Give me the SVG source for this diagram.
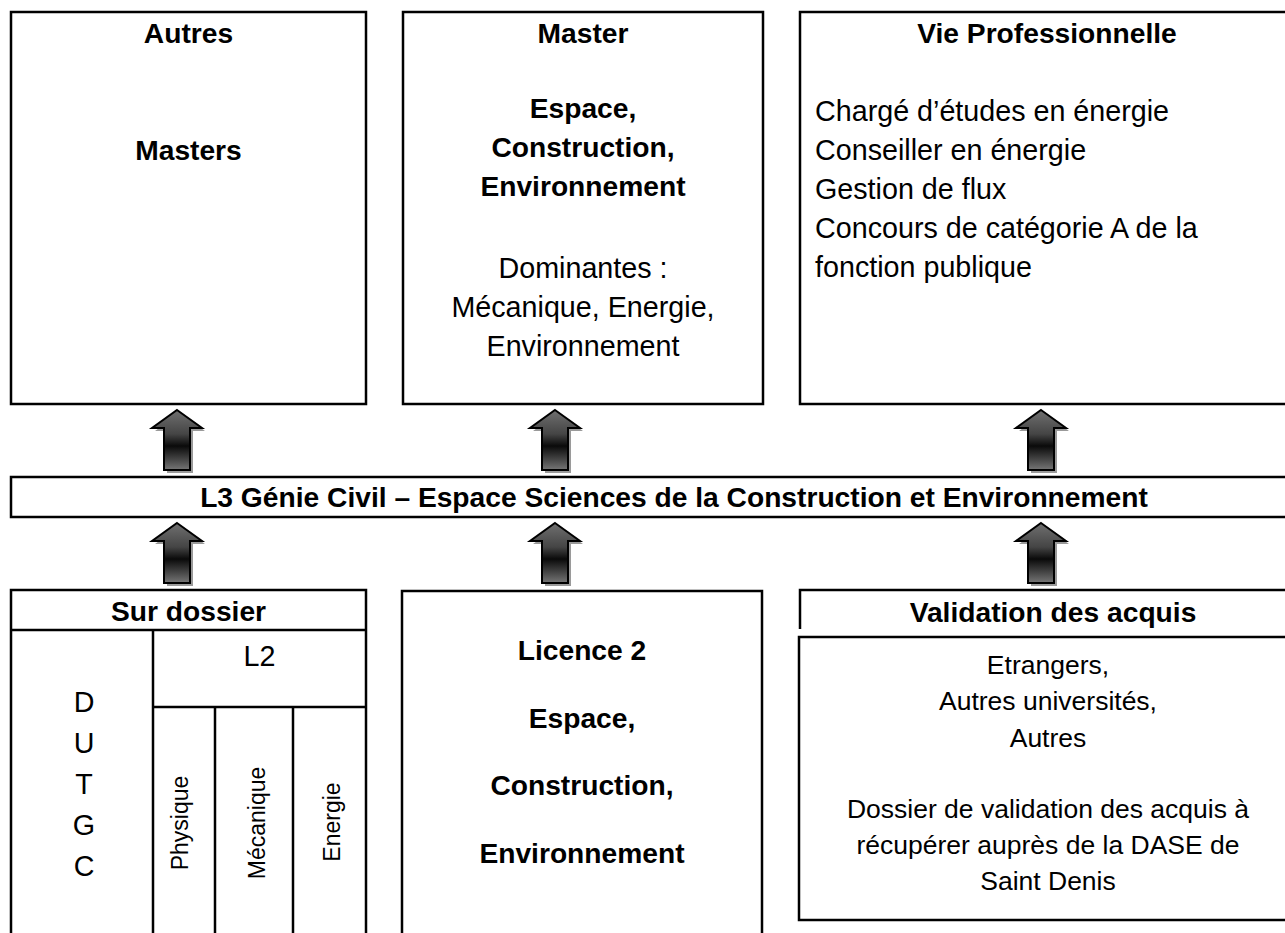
<svg xmlns="http://www.w3.org/2000/svg" width="1285" height="933" viewBox="0 0 1285 933">
<style>
.box{fill:#fff;stroke:#000;stroke-width:2.5}
.ln{fill:none;stroke:#000;stroke-width:2.5}
.t{font-family:"Liberation Sans",Arial,sans-serif;font-size:28.7px;fill:#000}
.s{font-family:"Liberation Sans",Arial,sans-serif;font-size:26.5px;fill:#000}
.b{font-family:"Liberation Sans",Arial,sans-serif;font-size:28.2px;font-weight:bold;fill:#000}
.c{text-anchor:middle}
.v{font-family:"Liberation Sans",Arial,sans-serif;font-size:23px;fill:#000;text-anchor:middle}
.arrow{fill:url(#ag);stroke:#000;stroke-width:2;stroke-linejoin:miter}
.shadow{fill:#9a9a9a}
</style>
<defs>
<linearGradient id="ag" x1="0" y1="0" x2="0" y2="1">
<stop offset="0" stop-color="#707070"/>
<stop offset="0.4" stop-color="#454545"/>
<stop offset="0.6" stop-color="#0a0a0a"/>
<stop offset="0.78" stop-color="#3a3a3a"/>
<stop offset="1" stop-color="#767676"/>
</linearGradient>
<path id="arr" d="M0,0 L25,18 L13,18 L13,60 L-13,60 L-13,18 L-25,18 Z"/>
</defs>

<g id="autres-masters">
<rect class="box" x="11" y="12" width="355" height="392"/>
<text class="b c" x="188.5" y="43">Autres</text>
<text class="b c" x="188.5" y="160">Masters</text>
</g>

<g id="master">
<rect class="box" x="403" y="12" width="360" height="392"/>
<text class="b c" x="583" y="43">Master</text>
<text class="b c" x="583" y="118">Espace,</text>
<text class="b c" x="583" y="157">Construction,</text>
<text class="b c" x="583" y="196">Environnement</text>
<text class="t c" x="583" y="278">Dominantes :</text>
<text class="t c" x="583" y="317">Mécanique, Energie,</text>
<text class="t c" x="583" y="356">Environnement</text>
</g>

<g id="vie-pro">
<rect class="box" x="800" y="12" width="500" height="392"/>
<text class="b c" x="1047" y="43">Vie Professionnelle</text>
<text class="t" x="815" y="121">Chargé d’études en énergie</text>
<text class="t" x="815" y="160">Conseiller en énergie</text>
<text class="t" x="815" y="199">Gestion de flux</text>
<text class="t" x="815" y="238">Concours de catégorie A de la</text>
<text class="t" x="815" y="277">fonction publique</text>
</g>

<g id="l3">
<rect class="box" x="11" y="477" width="1290" height="40"/>
<text class="b c" x="674" y="507">L3 Génie Civil – Espace Sciences de la Construction et Environnement</text>
</g>

<g id="sur-dossier">
<rect class="box" x="11" y="590" width="355" height="360"/>
<line class="ln" x1="11" y1="630" x2="366" y2="630"/>
<line class="ln" x1="153" y1="630" x2="153" y2="940"/>
<line class="ln" x1="153" y1="707" x2="366" y2="707"/>
<line class="ln" x1="215" y1="707" x2="215" y2="940"/>
<line class="ln" x1="293" y1="707" x2="293" y2="940"/>
<text class="b c" x="188.5" y="621">Sur dossier</text>
<text class="t c" x="259.5" y="666">L2</text>
<text class="t c" x="84" y="712">D</text>
<text class="t c" x="84" y="753">U</text>
<text class="t c" x="84" y="794">T</text>
<text class="t c" x="84" y="835">G</text>
<text class="t c" x="84" y="876">C</text>
<text class="v" transform="translate(188,823) rotate(-90)">Physique</text>
<text class="v" transform="translate(265,823) rotate(-90)">Mécanique</text>
<text class="v" transform="translate(340,822) rotate(-90)">Energie</text>
</g>

<g id="licence2">
<rect class="box" x="402" y="591" width="360" height="360" stroke-width="2"/>
<text class="b c" x="582" y="660" font-size="25.5">Licence 2</text>
<text class="b c" x="582" y="728" font-size="25.5">Espace,</text>
<text class="b c" x="582" y="795" font-size="25.5">Construction,</text>
<text class="b c" x="582" y="863" font-size="25.5">Environnement</text>
</g>

<g id="validation">
<path class="ln" d="M800,629 L800,590 L1300,590"/>
<text class="b c" x="1053" y="622">Validation des acquis</text>
<rect class="box" x="799" y="637" width="500" height="283" stroke="#222"/>
<text class="s c" x="1048" y="674">Etrangers,</text>
<text class="s c" x="1048" y="710">Autres universités,</text>
<text class="s c" x="1048" y="747">Autres</text>
<text class="s c" x="1048" y="818">Dossier de validation des acquis à</text>
<text class="s c" x="1048" y="854">récupérer auprès de la DASE de</text>
<text class="s c" x="1048" y="890">Saint Denis</text>
</g>

<g id="connectors">
<g transform="translate(177,410)"><use href="#arr" class="shadow" x="3" y="3"/><use href="#arr" class="arrow"/></g>
<g transform="translate(555,410)"><use href="#arr" class="shadow" x="3" y="3"/><use href="#arr" class="arrow"/></g>
<g transform="translate(1041,410)"><use href="#arr" class="shadow" x="3" y="3"/><use href="#arr" class="arrow"/></g>
<g transform="translate(177,523)"><use href="#arr" class="shadow" x="3" y="3"/><use href="#arr" class="arrow"/></g>
<g transform="translate(555,523)"><use href="#arr" class="shadow" x="3" y="3"/><use href="#arr" class="arrow"/></g>
<g transform="translate(1041,523)"><use href="#arr" class="shadow" x="3" y="3"/><use href="#arr" class="arrow"/></g>
</g>
</svg>
